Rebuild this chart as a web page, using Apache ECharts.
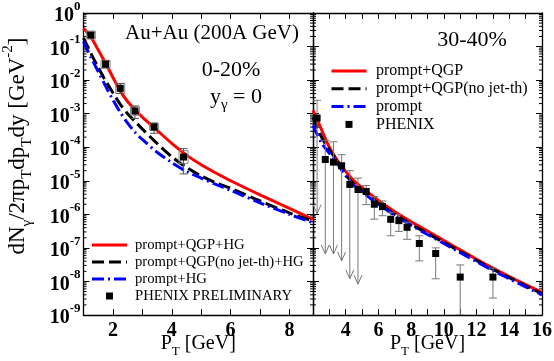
<!DOCTYPE html>
<html>
<head>
<meta charset="utf-8">
<script src="https://cdn.jsdelivr.net/npm/echarts@6/dist/echarts.min.js"></script>
<style>
html, body { margin: 0; padding: 0; background: #fff; }
#chart { width: 554px; height: 361px; }
</style>
</head>
<body>
<div id="chart"></div>
<script>
// ---- 0-20% panel (left) ----
const ptLeft = [1.0, 1.25, 1.5, 1.75, 2.0, 2.25, 2.5, 2.75, 3.0, 3.5, 4.0, 4.5, 5.0, 5.5, 6.0, 7.0, 8.0, 8.8]
const qgpHgLeft = [3.5e-1, 1.9e-1, 7.9e-2, 3.2e-2, 1.2e-2, 4.7e-3, 2.3e-3, 1.3e-3, 7.9e-4, 3.2e-4, 1.3e-4, 5.8e-5, 3.0e-5, 1.7e-5, 1.0e-5, 3.8e-6, 1.5e-6, 7.1e-7]
const noJetHgLeft = [1.8e-1, 6.3e-2, 2.4e-2, 9.5e-3, 4.2e-3, 1.9e-3, 1.0e-3, 5.9e-4, 3.5e-4, 1.3e-4, 5.2e-5, 2.5e-5, 1.4e-5, 8.7e-6, 6.0e-6, 2.5e-6, 1.1e-6, 6.3e-7]
const promptHgLeft = [1.4e-1, 4.8e-2, 1.8e-2, 6.6e-3, 2.6e-3, 1.1e-3, 5.2e-4, 2.8e-4, 1.7e-4, 7.1e-5, 3.5e-5, 1.9e-5, 1.2e-5, 7.8e-6, 5.2e-6, 2.2e-6, 1.0e-6, 5.6e-7]

const prelimX = [1.25, 1.75, 2.25, 2.75, 3.4, 4.4]
const prelimY = [0.22, 0.030, 0.0057, 0.0012, 0.0004, 5.1e-5]
const prelimLo = [0.19, 0.023, 0.0040, 7.2e-4, 2.6e-4, 1.6e-5]
const prelimHi = [0.26, 0.037, 0.0079, 1.7e-3, 5.3e-4, 9.1e-5]
const prelimSysLo = [0.167, 0.023, 0.0040, 0.0009, 0.00032, 3.3e-5]
const prelimSysHi = [0.29, 0.039, 0.0080, 0.0016, 0.0005, 7.9e-5]

// ---- 30-40% panel (right) ----
const ptRight = [2, 2.5, 3, 3.5, 4, 4.5, 5, 5.5, 6, 7, 8, 9, 10, 11, 12, 13, 14, 15, 16]
const qgpRight = [1.25e-3, 3.5e-4, 1.0e-4, 4.0e-5, 1.9e-5, 1.0e-5, 6.3e-6, 4.0e-6, 2.6e-6, 1.2e-6, 6.0e-7, 3.2e-7, 1.66e-7, 8.7e-8, 4.6e-8, 2.5e-8, 1.4e-8, 8.1e-9, 4.7e-9]
const noJetRight = [7.9e-4, 2.1e-4, 8.3e-5, 3.8e-5, 1.5e-5, 7.9e-6, 5.0e-6, 3.2e-6, 2.1e-6, 1.0e-6, 5.0e-7, 2.7e-7, 1.45e-7, 7.8e-8, 4.2e-8, 2.3e-8, 1.3e-8, 7.4e-9, 4.3e-9]
const promptRight = [4.5e-4, 1.4e-4, 6.6e-5, 3.2e-5, 1.4e-5, 7.4e-6, 4.7e-6, 3.0e-6, 2.0e-6, 9.3e-7, 4.7e-7, 2.5e-7, 1.35e-7, 7.2e-8, 3.9e-8, 2.1e-8, 1.2e-8, 6.9e-9, 4.0e-9]

const phenixX = [2.25, 2.75, 3.25, 3.75, 4.25, 4.75, 5.25, 5.75, 6.25, 6.75, 7.25, 7.75, 8.5, 9.5, 11, 13]
const phenixY = [7.4e-4, 4.3e-5, 3.6e-5, 2.8e-5, 7.8e-6, 5.5e-6, 4.8e-6, 2.0e-6, 1.7e-6, 7.1e-7, 6.5e-7, 4.1e-7, 1.35e-7, 6.8e-8, 1.35e-8, 1.35e-8]
const phenixHi = [2.5e-3, 1.6e-4, 1.45e-4, 6.0e-5, 2.0e-5, 1.2e-5, 7.2e-6, 3.4e-6, 2.5e-6, 1.15e-6, 1.0e-6, 5.8e-7, 2.3e-7, 1.0e-7, 3.1e-8, 2.5e-8]
const phenixLo = [1.05e-6, 6.6e-8, 6.6e-8, 4.1e-8, 1.2e-8, 8.3e-9, 1.95e-6, 7.2e-7, 9.1e-7, 2.3e-7, 3.1e-7, 1.8e-7, 4.1e-8, 1.2e-8, 1e-9, 3.2e-9]
const phenixLimit = [1, 1, 1, 1, 1, 1, 0, 0, 0, 0, 0, 0, 0, 0, 0, 0]

const legendLeft = ['prompt+QGP+HG', 'prompt+QGP(no jet-th)+HG', 'prompt+HG', 'PHENIX PRELIMINARY']
const legendRight = ['prompt+QGP', 'prompt+QGP(no jet-th)', 'prompt', 'PHENIX']

const decadeMultipliers = [2, 3, 4, 5, 6, 7, 8, 9]
const minorTickValues = []
for (let k = -9; k < 0; k++) decadeMultipliers.forEach(m => minorTickValues.push(m * Math.pow(10, k)))

const serif = 'Liberation Serif'
const zip = (xs, ys) => xs.map((x, i) => [x, ys[i]])

const RED = '#ff0000', BLACK = '#000000', BLUE = '#0000ff'
const DASH = [12, 5], DASHDOT = [12, 4, 2, 4]

const chart = echarts.init(document.getElementById('chart'))

const frame = { show: true, lineStyle: { color: '#000', width: 1.3 } }

function xAx(grid, pos, min, max, labels, fmt) {
  return {
    type: 'value', gridIndex: grid, position: pos, min, max, interval: 1,
    axisLine: frame, splitLine: { show: false },
    axisTick: { inside: true, length: 6, lineStyle: { color: '#000' } },
    axisLabel: labels ? {
      formatter: fmt, margin: 6, color: '#000',
      fontFamily: serif, fontWeight: 'bold', fontSize: 20
    } : { show: false }
  }
}
function yAx(grid, pos, labels) {
  return {
    type: 'log', logBase: 10, min: 1e-9, max: 1, interval: 1,
    gridIndex: grid, position: pos,
    axisLine: frame, splitLine: { show: false },
    axisTick: { inside: true, length: 6, lineStyle: { color: '#000' } },
    axisLabel: labels ? {
      margin: 3, color: '#000',
      formatter: v => `{b|10}{e|${Math.round(Math.log10(v))}}`,
      rich: {
        b: { fontFamily: serif, fontWeight: 'bold', fontSize: 20, lineHeight: 26, verticalAlign: 'bottom', color: '#000' },
        e: { fontFamily: serif, fontWeight: 'bold', fontSize: 13, lineHeight: 26, verticalAlign: 'top', color: '#000' }
      }
    } : { show: false }
  }
}

const ptName = {
  name: '{m|P}{s|T}{m| [GeV]}', nameLocation: 'middle', nameGap: 15, nameMoveOverlap: false,
  nameTextStyle: {
    rich: {
      m: { fontFamily: serif, fontSize: 20, lineHeight: 28, verticalAlign: 'middle', color: '#000' },
      s: { fontFamily: serif, fontSize: 13, lineHeight: 28, verticalAlign: 'bottom', color: '#000' }
    }
  }
}

function minorTicks(params, api) {
  const cs = params.coordSys
  const y = api.coord([api.value(0), api.value(1)])[1]
  const st = { stroke: '#000', lineWidth: 1 }
  return {
    type: 'group', children: [
      { type: 'line', shape: { x1: cs.x, y1: y, x2: cs.x + 3, y2: y }, style: st },
      { type: 'line', shape: { x1: cs.x + cs.width - 3, y1: y, x2: cs.x + cs.width, y2: y }, style: st }
    ]
  }
}

function errorBars(color, cap) {
  return function (params, api) {
    const x = api.value(0)
    const lo = api.coord([x, api.value(1)])
    const hi = api.coord([x, api.value(2)])
    const st = { stroke: color, lineWidth: 1, fill: null }
    const kids = [
      { type: 'line', shape: { x1: hi[0], y1: hi[1], x2: lo[0], y2: lo[1] }, style: st },
      { type: 'line', shape: { x1: hi[0] - cap, y1: hi[1], x2: hi[0] + cap, y2: hi[1] }, style: st }
    ]
    if (api.value(3) === 1) {
      kids.push({ type: 'polyline', shape: { points: [[lo[0] - 4, lo[1] - 9], [lo[0], lo[1]], [lo[0] + 4, lo[1] - 9]] }, style: st })
    } else {
      kids.push({ type: 'line', shape: { x1: lo[0] - cap, y1: lo[1], x2: lo[0] + cap, y2: lo[1] }, style: st })
    }
    return { type: 'group', children: kids }
  }
}

function sysBoxes(params, api) {
  const x = api.value(0)
  const lo = api.coord([x, api.value(1)])
  const hi = api.coord([x, api.value(2)])
  return {
    type: 'rect', shape: { x: hi[0] - 4.5, y: hi[1], width: 9, height: lo[1] - hi[1] },
    style: { stroke: '#888', lineWidth: 1, fill: null }
  }
}

function curve(xi, yi, xs, ys, color, dash) {
  return {
    type: 'line', xAxisIndex: xi, yAxisIndex: yi, data: zip(xs, ys),
    symbol: 'none', smooth: 0.3, z: 3,
    lineStyle: { color, width: 3, type: dash }
  }
}

// hand-drawn legend block (line samples + square marker + text)
function legendBlock(names, x0, y0, step, textX, fontSize) {
  const styles = [[RED, null], [BLACK, DASH], [BLUE, DASHDOT]]
  const out = []
  names.forEach((name, i) => {
    const y = y0 + i * step
    if (i < 3) {
      out.push({
        type: 'line', shape: { x1: x0, y1: y, x2: x0 + 35, y2: y },
        style: { stroke: styles[i][0], lineWidth: 3, lineDash: styles[i][1] }
      })
    } else {
      out.push({ type: 'rect', shape: { x: x0 + 14, y: y - 3.5, width: 7, height: 7 }, style: { fill: '#000' } })
    }
    out.push({
      type: 'text', x: textX, y,
      style: { text: name, fontFamily: serif, fontSize, fill: '#000', verticalAlign: 'middle' }
    })
  })
  return out
}

const richT = {
  m: { fontFamily: serif, fontSize: 23, lineHeight: 34, verticalAlign: 'middle', fill: '#000' },
  s: { fontFamily: serif, fontSize: 15, lineHeight: 34, verticalAlign: 'bottom', fill: '#000' },
  e: { fontFamily: serif, fontSize: 15, lineHeight: 34, verticalAlign: 'top', fill: '#000' }
}

chart.setOption({
  animation: false,
  backgroundColor: '#fff',
  grid: [
    { left: 83.5, top: 13, width: 229.5, height: 302, outerBoundsMode: 'none', containLabel: false },
    { left: 313, top: 13, width: 229, height: 302, outerBoundsMode: 'none', containLabel: false }
  ],
  xAxis: [
    Object.assign(xAx(0, 'bottom', 1, 8.8, true, v => (v % 2 === 0 ? v : '')), ptName),
    xAx(0, 'top', 1, 8.8, false),
    Object.assign(xAx(1, 'bottom', 2, 16, true, v => (v % 2 === 0 && v > 2 ? v : '')), ptName),
    xAx(1, 'top', 2, 16, false)
  ],
  yAxis: [
    yAx(0, 'left', true),
    yAx(0, 'right', false),
    yAx(1, 'left', false),
    yAx(1, 'right', false)
  ],
  graphic: [
    {
      type: 'text', x: 18, y: 146, rotation: Math.PI / 2,
      style: {
        text: '{m|dN}{s|γ}{m|/2πp}{s|T}{m|dp}{s|T}{m|dy [GeV}{e|-2}{m|]}',
        rich: richT, align: 'center', verticalAlign: 'middle'
      }
    },
    { type: 'text', x: 212, y: 33, style: { text: 'Au+Au (200A GeV)', fontFamily: serif, fontSize: 21, fill: '#000', align: 'center', verticalAlign: 'middle' } },
    { type: 'text', x: 231, y: 70, style: { text: '0-20%', fontFamily: serif, fontSize: 22, fill: '#000', align: 'center', verticalAlign: 'middle' } },
    {
      type: 'text', x: 236, y: 97,
      style: {
        text: '{m|y}{s|γ}{m| = 0}', align: 'center', verticalAlign: 'middle',
        rich: {
          m: { fontFamily: serif, fontSize: 22, lineHeight: 32, verticalAlign: 'middle', fill: '#000' },
          s: { fontFamily: serif, fontSize: 15, lineHeight: 32, verticalAlign: 'bottom', fill: '#000' }
        }
      }
    },
    { type: 'text', x: 472, y: 40, style: { text: '30-40%', fontFamily: serif, fontSize: 22, fill: '#000', align: 'center', verticalAlign: 'middle' } },
    ...legendBlock(legendLeft, 92, 245, 17, 135, 14.7),
    ...legendBlock(legendRight, 331.5, 71, 17.8, 376, 16)
  ],
  series: [
    { type: 'custom', xAxisIndex: 0, yAxisIndex: 0, renderItem: minorTicks, data: minorTickValues.map(v => [1, v]), silent: true, z: 1 },
    { type: 'custom', xAxisIndex: 2, yAxisIndex: 2, renderItem: minorTicks, data: minorTickValues.map(v => [2, v]), silent: true, z: 1 },

    curve(0, 0, ptLeft, qgpHgLeft, RED, 'solid'),
    curve(0, 0, ptLeft, noJetHgLeft, BLACK, DASH),
    curve(0, 0, ptLeft, promptHgLeft, BLUE, DASHDOT),
    {
      type: 'custom', xAxisIndex: 0, yAxisIndex: 0, renderItem: sysBoxes, clip: true, z: 4,
      encode: { x: 0, y: [1, 2] },
      data: prelimX.map((x, i) => [x, prelimSysLo[i], prelimSysHi[i]])
    },
    {
      type: 'custom', xAxisIndex: 0, yAxisIndex: 0, renderItem: errorBars('#555', 4), clip: true, z: 4,
      encode: { x: 0, y: [1, 2] },
      data: prelimX.map((x, i) => [x, prelimLo[i], prelimHi[i], 0])
    },
    {
      type: 'scatter', xAxisIndex: 0, yAxisIndex: 0, z: 5,
      symbol: 'rect', symbolSize: 7, itemStyle: { color: '#000', opacity: 1 }, data: zip(prelimX, prelimY)
    },

    curve(2, 2, ptRight, qgpRight, RED, 'solid'),
    curve(2, 2, ptRight, noJetRight, BLACK, DASH),
    curve(2, 2, ptRight, promptRight, BLUE, DASHDOT),
    {
      type: 'custom', xAxisIndex: 2, yAxisIndex: 2, renderItem: errorBars('#777', 4), clip: true, z: 4,
      encode: { x: 0, y: [1, 2] },
      data: phenixX.map((x, i) => [x, phenixLo[i], phenixHi[i], phenixLimit[i]])
    },
    {
      type: 'scatter', xAxisIndex: 2, yAxisIndex: 2, z: 5,
      symbol: 'rect', symbolSize: 7, itemStyle: { color: '#000', opacity: 1 }, data: zip(phenixX, phenixY)
    }
  ]
})
</script>
</body>
</html>
